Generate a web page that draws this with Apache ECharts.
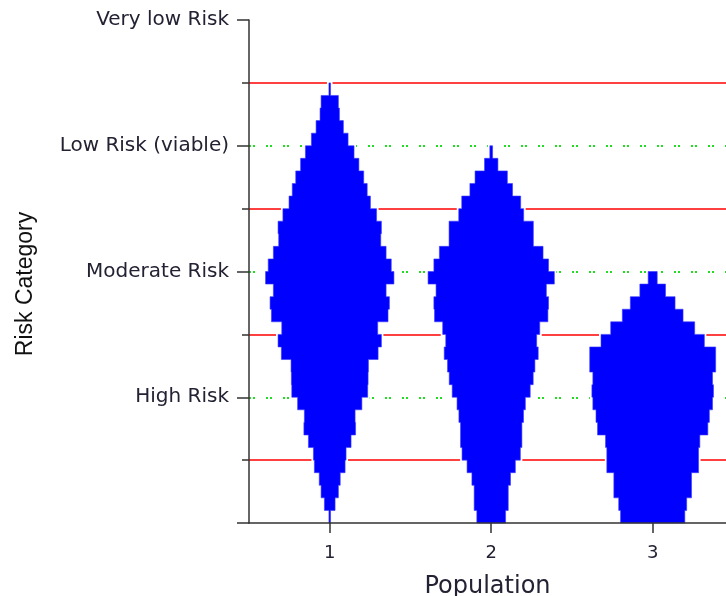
<!DOCTYPE html>
<html>
<head>
<meta charset="utf-8">
<title>Risk Category by Population</title>
<script src="https://cdn.jsdelivr.net/npm/echarts@6/dist/echarts.min.js"></script>
<style>
  html, body { margin: 0; padding: 0; background: #ffffff; }
  #chart { width: 726px; height: 596px; }
</style>
</head>
<body>
<div id="chart"></div>
<script>
// Populations along the x axis
const populations = [1, 2, 3];

// Visible x range (the last slot is cut at the right edge)
const xMin = 0.5;
const xMax = 3.454;

// Risk category names placed at integer positions of the y axis
const riskLabels = { 1: 'High Risk', 2: 'Moderate Risk', 3: 'Low Risk (viable)', 4: 'Very low Risk' };

// Histogram bin height on the risk scale
const binStep = 0.1;

// Full width of each bin in x-axis units, listed from the bottom bin (0.0-0.1) upward
const pop1Widths = [
  0.010, 0.066, 0.107, 0.130, 0.190, 0.202, 0.264, 0.320, 0.314, 0.398,
  0.470, 0.475, 0.479, 0.599, 0.640, 0.594, 0.722, 0.739, 0.698, 0.795,
  0.762, 0.698, 0.632, 0.640, 0.580, 0.504, 0.464, 0.421, 0.361, 0.301,
  0.227, 0.169, 0.120, 0.107, 0.010
];
const pop2Widths = [
  0.178, 0.211, 0.211, 0.239, 0.299, 0.361, 0.380, 0.380, 0.400, 0.423,
  0.483, 0.520, 0.541, 0.582, 0.563, 0.601, 0.702, 0.710, 0.683, 0.782,
  0.710, 0.642, 0.522, 0.522, 0.402, 0.365, 0.264, 0.200, 0.083, 0.017
];
const pop3Widths = [
  0.398, 0.421, 0.481, 0.481, 0.568, 0.568, 0.584, 0.683, 0.702, 0.741,
  0.753, 0.741, 0.780, 0.780, 0.640, 0.520, 0.376, 0.277, 0.159, 0.056
];

const binWidths = [pop1Widths, pop2Widths, pop3Widths];

const chart = echarts.init(document.getElementById('chart'), null, { renderer: 'canvas' });

// Builds the stepped outline of one mirrored histogram
function renderViolin(params, api) {
  const pop = api.value(0);
  const widths = binWidths[params.dataIndex];
  const unit = api.size([1, 0])[0];
  const right = [];
  const left = [];
  for (let i = 0; i < widths.length; i++) {
    const c0 = api.coord([pop, i * binStep]);
    const c1 = api.coord([pop, (i + 1) * binStep]);
    const half = widths[i] * unit / 2;
    right.push([c0[0] + half, c0[1]], [c1[0] + half, c1[1]]);
    left.push([c0[0] - half, c0[1]], [c1[0] - half, c1[1]]);
  }
  const points = right.concat(left.reverse());
  return {
    type: 'group',
    children: [
      {
        type: 'polygon',
        shape: { points: points },
        style: { fill: '#ffffff', stroke: '#ffffff', lineWidth: 4 }
      },
      {
        type: 'polygon',
        shape: { points: points },
        style: { fill: '#0000ff', stroke: '#3a3aff', lineWidth: 0.6 }
      }
    ]
  };
}

const axisColor = '#333333';
const textColor = '#222233';
const labelFont = 'DejaVu Sans';

chart.setOption({
  animation: false,
  backgroundColor: '#ffffff',
  grid: { left: 249, top: 20, right: 0, height: 503, outerBoundsMode: 'none', containLabel: false },
  xAxis: {
    type: 'value',
    min: xMin,
    max: xMax,
    z: 5,
    name: 'Population',
    nameLocation: 'middle',
    nameGap: 52,
    nameTextStyle: { fontFamily: labelFont, fontSize: 24, color: textColor },
    axisLine: { lineStyle: { color: axisColor, width: 1.5 } },
    axisTick: { customValues: populations, length: 10, lineStyle: { color: axisColor, width: 1.5 } },
    axisLabel: { customValues: populations, margin: 21, fontFamily: labelFont, fontSize: 18, color: textColor },
    splitLine: { show: false }
  },
  yAxis: {
    type: 'value',
    min: 0,
    max: 4,
    interval: 1,
    z: 0,
    name: 'Risk Category',
    nameLocation: 'middle',
    nameGap: 212,
    nameTextStyle: { fontFamily: 'Liberation Sans', fontSize: 23, color: '#111111', padding: [0, 25, 0, 0] },
    axisLine: { show: true, lineStyle: { color: axisColor, width: 1.5 } },
    axisTick: { show: true, length: 12, lineStyle: { color: axisColor, width: 1.5 } },
    minorTick: { show: true, splitNumber: 2, length: 7, lineStyle: { color: axisColor, width: 1.5 } },
    axisLabel: {
      margin: 20,
      fontFamily: labelFont,
      fontSize: 20,
      color: textColor,
      formatter: function (v) { return riskLabels[v] || ''; }
    },
    splitLine: {
      show: true,
      showMinLine: false,
      showMaxLine: false,
      lineStyle: { color: '#22dd22', width: 2, type: [2, 2, 2, 11] }
    },
    minorSplitLine: {
      show: true,
      lineStyle: { color: '#ff0000', width: 1.6 }
    }
  },
  series: [
    {
      type: 'custom',
      renderItem: renderViolin,
      encode: { x: 0 },
      data: populations.map(function (p) { return [p]; }),
      z: 2
    }
  ]
});
</script>
</body>
</html>
